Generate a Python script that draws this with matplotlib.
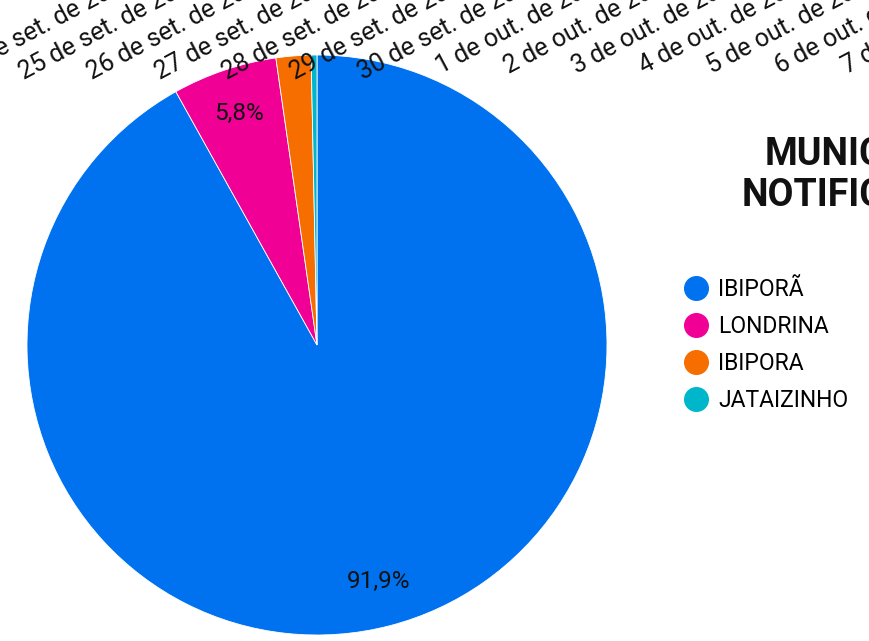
import matplotlib
matplotlib.use("Agg")
import matplotlib.pyplot as plt
from matplotlib.lines import Line2D

# -------------------------
# Data
# -------------------------
municipios = ["IBIPORÃ", "LONDRINA", "IBIPORA", "JATAIZINHO"]
notificacoes = [284, 18, 6, 1]
cores = ["#0072f0", "#f10096", "#f66d00", "#00b6cb"]

datas = ["24 de set. de 2023", "25 de set. de 2023", "26 de set. de 2023",
         "27 de set. de 2023", "28 de set. de 2023", "29 de set. de 2023",
         "30 de set. de 2023", "1 de out. de 2023", "2 de out. de 2023",
         "3 de out. de 2023", "4 de out. de 2023", "5 de out. de 2023",
         "6 de out. de 2023", "7 de out. de 2023"]

titulo = "MUNICÍPIO\nNOTIFICANTE"

W, H = 869, 641
plt.rcParams['font.family'] = ['Roboto', 'DejaVu Sans']


def pct_label(p):
    # only the bigger slices get a label, decimal comma as in pt-BR
    if p < 3:
        return ""
    return f"{p:.1f}%".replace(".", ",")


def main():
    fig = plt.figure(figsize=(W / 100, H / 100), dpi=100)

    # pie: centre (317, 345) px, radius 290 px
    cx, cy, r = 317, 345, 290
    ax = fig.add_axes([(cx - r) / W, (H - cy - r) / H, 2 * r / W, 2 * r / H])
    ax.pie(notificacoes, colors=cores, startangle=90, counterclock=False,
           autopct=pct_label, pctdistance=0.843,
           wedgeprops=dict(edgecolor="white", linewidth=0.6),
           textprops=dict(fontsize=17.5, color="#111111"))
    ax.set_xlim(-1, 1)
    ax.set_ylim(-1, 1)
    ax.set_aspect("equal")
    ax.axis("off")

    # leftover rotated date labels across the top (anchored at their end)
    for i, d in enumerate(datas):
        x_end = 137 + 67.7 * i
        fig.text(x_end / W, 1 + 16 / H, d, ha="right", va="baseline",
                 rotation=28, rotation_mode="anchor", fontsize=18,
                 color="#111111", zorder=5)

    # title (cut by the right edge)
    fig.text(861 / W, 1 - 175 / H, titulo, ha="center", va="center",
             fontsize=27, fontweight="bold", linespacing=1.15, color="#111111")

    # legend
    handles = [Line2D([], [], marker="o", linestyle="none", markersize=17,
                      markerfacecolor=c, markeredgecolor=c) for c in cores]
    fig.legend(handles, municipios, loc="center left",
               bbox_to_anchor=(685 / W, 1 - 345 / H), frameon=False,
               fontsize=16.5, handlelength=1.0, handletextpad=0.45,
               labelspacing=0.615, borderpad=0, borderaxespad=0)

    fig.savefig("out.png", dpi=100)
    plt.close(fig)


if __name__ == "__main__":
    main()
